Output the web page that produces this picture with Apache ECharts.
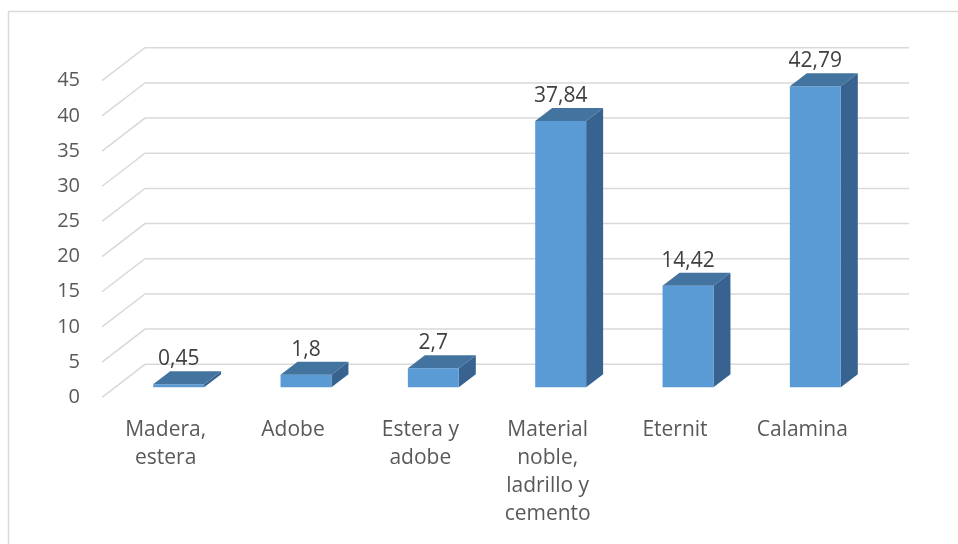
<!DOCTYPE html>
<html>
<head>
<meta charset="utf-8">
<script src="https://cdn.jsdelivr.net/npm/echarts@6/dist/echarts.min.js"></script>
<style>
  html, body { margin: 0; padding: 0; background: #fff; }
  #chart { width: 958px; height: 544px; }
</style>
</head>
<body>
<div id="chart"></div>
<script>
// Roof material shares (%)
const categories = ['Madera,\nestera', 'Adobe', 'Estera y\nadobe', 'Material\nnoble,\nladrillo y\ncemento', 'Eternit', 'Calamina'];
const values = [0.45, 1.8, 2.7, 37.84, 14.42, 42.79];
const yTicks = [0, 5, 10, 15, 20, 25, 30, 35, 40, 45];

// Pseudo-3D geometry (pixels)
const WALL_DX = 43, WALL_DY = -33;     // floor depth: front edge -> back wall
const BAR_OFF_DX = 13, BAR_OFF_DY = -10; // bar front face inset from front edge
const BAR_DX = 17, BAR_DY = -13;       // bar depth
const BAR_RATIO = 0.4;

const FONT = '"Open Sans", "Liberation Sans", sans-serif';
const fmt = v => String(v).replace('.', ',');

const chart = echarts.init(document.getElementById('chart'));

chart.setOption({
  backgroundColor: '#fff',
  animation: false,
  graphic: [{
    type: 'rect',
    shape: { x: 8.5, y: 11.5, width: 1000, height: 600 },
    style: { fill: 'none', stroke: '#d9d9d9', lineWidth: 1.5 },
    silent: true,
    z: -10
  }],
  grid: { left: 102, right: 92, top: 80.7, bottom: 146.7, containLabel: false },
  xAxis: {
    type: 'category',
    data: categories,
    axisLine: { show: false },
    axisTick: { show: false },
    splitLine: { show: false },
    axisLabel: {
      interval: 0,
      margin: 19,
      color: '#595959',
      fontFamily: FONT,
      fontSize: 21,
      lineHeight: 28
    }
  },
  yAxis: {
    type: 'value',
    min: 0,
    max: 45,
    interval: 5,
    axisLine: { show: false },
    axisTick: { show: false },
    splitLine: { show: false },
    axisLabel: {
      margin: 22,
      color: '#595959',
      fontFamily: FONT,
      fontSize: 20
    }
  },
  series: [
    {
      // gridlines: diagonal floor segment + back wall line
      type: 'custom',
      z: 1,
      silent: true,
      data: yTicks.map(v => [0, v]),
      renderItem: function (params, api) {
        const cs = params.coordSys;
        const y = api.coord([0, api.value(1)])[1];
        const x0 = cs.x;
        const xEnd = cs.x + cs.width + WALL_DX;
        return {
          type: 'polyline',
          shape: { points: [[x0, y], [x0 + WALL_DX, y + WALL_DY], [xEnd, y + WALL_DY]] },
          style: { stroke: '#d9d9d9', lineWidth: 1.5, fill: null }
        };
      }
    },
    {
      // 3D bars with value labels
      type: 'custom',
      z: 2,
      data: values.map((v, i) => [i, v]),
      renderItem: function (params, api) {
        const i = api.value(0), v = api.value(1);
        const base = api.coord([i, 0]);
        const top = api.coord([i, v]);
        const band = api.size([1, 0])[0];
        const w = band * BAR_RATIO;
        const cx = base[0] + BAR_OFF_DX;
        const x0 = cx - w / 2, x1 = cx + w / 2;
        const yb = base[1] + BAR_OFF_DY;
        const yt = top[1] + BAR_OFF_DY;
        return {
          type: 'group',
          children: [
            {
              type: 'polygon',
              shape: { points: [[x1, yt], [x1 + BAR_DX, yt + BAR_DY], [x1 + BAR_DX, yb + BAR_DY], [x1, yb]] },
              style: { fill: '#386290' }
            },
            {
              type: 'rect',
              shape: { x: x0, y: yt, width: w, height: yb - yt },
              style: { fill: '#5b9bd5' }
            },
            {
              type: 'polygon',
              shape: { points: [[x0, yt], [x1, yt], [x1 + BAR_DX, yt + BAR_DY], [x0 + BAR_DX, yt + BAR_DY]] },
              style: { fill: '#43739f' }
            },
            {
              type: 'text',
              style: {
                text: fmt(v),
                x: cx,
                y: yt + BAR_DY - 12,
                align: 'center',
                verticalAlign: 'middle',
                fill: '#404040',
                font: '21px ' + FONT
              }
            }
          ]
        };
      }
    }
  ]
});
</script>
</body>
</html>
